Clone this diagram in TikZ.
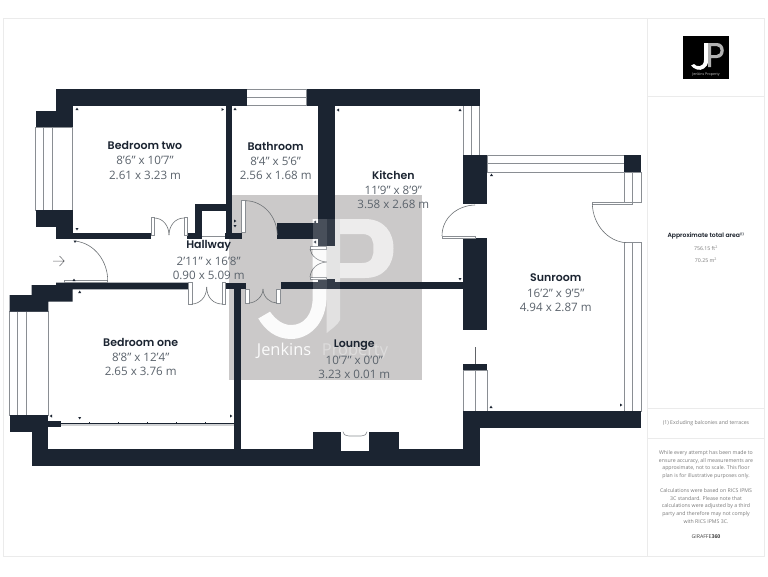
\documentclass[tikz,border=0pt]{standalone}
\usepackage{fontspec}
\setmainfont{Open Sans}
\newfontfamily\ttl{Poppins SemiBold}
\usetikzlibrary{calc}
\definecolor{wallc}{HTML}{1B2431}
\definecolor{linec}{HTML}{8A8E93}
\definecolor{framec}{HTML}{EBEBEB}
\definecolor{wmgrey}{HTML}{CBC9C9}
\definecolor{dimc}{HTML}{5B636C}
\definecolor{panelc}{HTML}{7A7A7A}
\tikzset{
  wall/.style={fill=wallc,draw=none},
  win/.style={draw=linec,line width=0.6pt,fill=white},
  winline/.style={draw=linec,line width=0.6pt},
  doorarc/.style={draw=linec!80!black,line width=0.6pt},
  framel/.style={draw=framec,line width=1pt},
  roomtitle/.style={font=\ttl\fontsize{11}{13}\selectfont,text=wallc,inner sep=0pt,anchor=center},
  roomdim/.style={font=\fontsize{11.6}{13}\selectfont,text=dimc,inner sep=0pt,anchor=center},
  paneltxt/.style={font=\fontsize{5.2}{6}\selectfont,text=panelc,inner sep=0pt,anchor=center},
  mk/.style={fill=wallc,draw=none}
}
\newcommand{\tick}[3]{\fill[mk,shift={(#1,#2)},rotate=#3] (-1.5,-1) -- (1.5,-1) -- (0,1.4) -- cycle;}
\begin{document}
\begin{tikzpicture}[x=1pt,y=-1pt]
\path[use as bounding box,fill=white] (0,0) rectangle (768,576);
% frame and panel
\draw[framel] (3.5,18.5) rectangle (764.5,556.5);
\draw[framel] (647.7,18.5) -- (647.7,556.5);
\draw[framel] (647.7,96) -- (764.5,96);
\draw[framel] (647.7,408) -- (764.5,408);
\draw[framel] (647.7,438) -- (764.5,438);
% watermark base
\fill[wmgrey] (229,194.7) rectangle (422.3,380);
\fill[white!92!wmgrey] (312.7,219) -- (326.7,219) -- (326.7,295) .. controls (326.7,325) and (308,339) .. (291,339) .. controls (276,339) and (265,330) .. (258.3,318.5) -- (270,311.7) .. controls (276,320) and (283,325) .. (291,325) .. controls (304,325) and (312.7,315) .. (312.7,297) -- cycle;
\fill[white!45!wmgrey] (326.7,219) -- (340,219) -- (340,320) .. controls (338,325) and (330,330) .. (326.7,333) -- cycle;
\fill[white!65!wmgrey,even odd rule] (340,219) -- (365,219) .. controls (384,219) and (393.5,232) .. (393.5,248.5) .. controls (393.5,265) and (384,278) .. (365,278) -- (340,278) -- (340,263) -- (362,263) .. controls (373,263) and (373.5,255) .. (373.5,248.5) .. controls (373.5,242) and (373,234) .. (362,234) -- (340,234) -- cycle;
% windows
\draw[win] (35.7,127) rectangle (72.7,210);
\draw[winline] (43.3,127) -- (43.3,210) (52.7,127) -- (52.7,210);
\draw[win] (9.7,311.7) rectangle (48.3,415);
\draw[winline] (17.3,311.7) -- (17.3,415) (26,311.7) -- (26,415);
\draw[win] (246.7,89.3) rectangle (306.7,105.7);
\draw[winline] (246.7,97) -- (306.7,97);
\draw[win] (463.3,105.7) rectangle (479.5,156);
\draw[winline] (471.7,105.7) -- (471.7,156);
\draw[win] (487.3,155.3) rectangle (624.3,172.3);
\draw[winline] (487.3,163.5) -- (624.3,163.5);
\draw[win] (624.3,172.3) rectangle (641,202.3);
\draw[winline] (632.3,172.3) -- (632.3,202.3);
\draw[win] (624.3,242.7) rectangle (641,411.3);
\draw[winline] (632.3,242.7) -- (632.3,411.3);
\draw[win] (463,370) rectangle (487.3,411.3);
\draw[winline] (475.7,370) -- (475.7,411.3);
\draw[line width=0.9pt,draw=linec!70!black] (475.3,347.3) -- (475.3,364);
% closet threshold
\draw[winline,line width=0.5pt] (201.7,236) -- (225.5,236);
% walls
\fill[wall] (56,89.3) rectangle (246.7,105.7);
\fill[wall] (306.7,89.3) rectangle (480,105.7);
\fill[wall] (56,89.3) rectangle (72.7,127);
\fill[wall] (35.7,110.7) rectangle (72.7,127);
\fill[wall] (35.7,210) rectangle (72.7,226.7);
\fill[wall] (56,210) rectangle (72.7,239);
\fill[wall] (56,232.7) rectangle (151,239);
\fill[wall] (225.5,105.7) rectangle (232.3,239);
\fill[wall] (225,232.5) rectangle (241.7,239);
\fill[wall] (195,204.3) rectangle (201.7,239);
\fill[wall] (195,204.3) rectangle (226,211);
\fill[wall] (187.3,232.5) rectangle (201.7,239);
\fill[wall] (317.7,105.7) rectangle (335.3,246);
\fill[wall] (277.3,222.7) rectangle (318,239.3);
\fill[wall] (56,282.7) -- (188.5,282.7) -- (188.5,289.3) -- (72.7,289.3) -- (72.7,301.7) -- (48.3,301.7) -- (48.3,311.7) -- (9.7,311.7) -- (9.7,295) -- (31.7,295) -- (31.7,285) -- (56,285) -- cycle;
\fill[wall] (9.7,415) rectangle (48.3,431.7);
\fill[wall] (31.7,415) rectangle (48.3,466);
\fill[wall] (48.3,421) rectangle (60.7,427.3);
\fill[wall] (31.7,449.3) rectangle (480,466);
\fill[wall] (234,282.7) rectangle (240.7,450);
\fill[wall] (225,282.7) rectangle (245.7,289.3);
\fill[wall] (280.7,281.7) rectangle (463,289);
\fill[wall] (317.7,279) rectangle (335.3,289);
\fill[wall] (312.7,431.7) rectangle (399,450);
\fill[white] (340.7,431.7) rectangle (369,450.7);
\draw[winline] (343,431.7) .. controls (344,435) and (346,436) .. (349,436) -- (361,436) .. controls (364,436) and (366,435) .. (367,431.7);
\fill[wall] (463,155.3) rectangle (487.3,204.3);
\fill[wall] (463,238.3) rectangle (487.3,330);
\fill[wall] (463,364) rectangle (487.3,370.3);
\fill[wall] (463,411.3) rectangle (641,427.7);
\fill[wall] (463,411.3) rectangle (480,466);
\fill[wall] (624.3,155.3) rectangle (641,172.3);
% built-in wardrobe rail
\fill[linec!40] (60.7,424) rectangle (234,426);
\draw[wallc,line width=0.9pt] (60.7,423.5) -- (234,423.5);
\foreach \tx in {89.3,118.3,147.3,176.3,205.3} {\draw[wallc,line width=0.4pt] (\tx,422) -- (\tx,423.5);}
% doors
\draw[win] (64,279.8) rectangle (107.7,282);
\draw[doorarc] (74.7,241) .. controls (95,243) and (108,262) .. (107.7,281);
\draw[win] (151,217.7) rectangle (154.3,235);
\draw[win] (184,217.7) rectangle (187.3,235);
\draw[doorarc] (154.3,218) .. controls (163,218) and (169,226) .. (169,235);
\draw[doorarc] (184,218) .. controls (175,218) and (169,226) .. (169,235);
\draw[win] (241.7,200.7) rectangle (245.7,232.5);
\draw[doorarc] (245.7,200.7) .. controls (263,201) and (277,216) .. (277.3,235);
\draw[win] (188.5,282.7) rectangle (191.8,304);
\draw[win] (222,282.7) rectangle (225,304);
\draw[doorarc] (191.8,304) .. controls (199,304) and (206.7,298) .. (206.7,287);
\draw[doorarc] (222,304) .. controls (214,304) and (206.7,298) .. (206.7,287);
\draw[win] (245.7,289) rectangle (249,303);
\draw[win] (276.7,289) rectangle (280.7,303);
\draw[doorarc] (249,303) .. controls (255,303) and (263,297) .. (263,289);
\draw[doorarc] (276.7,303) .. controls (270,303) and (263,297) .. (263,289);
\draw[win] (310,246.3) rectangle (326.7,249);
\draw[win] (310,277) rectangle (326.7,279.5);
\draw[doorarc] (310,249) .. controls (311,256) and (318,261.5) .. (326.7,262);
\draw[doorarc] (310,277) .. controls (311,268) and (318,262.5) .. (326.7,262);
\draw[win] (442,236) rectangle (475.7,238.2);
\draw[doorarc] (475,205) .. controls (457,205.5) and (442,218) .. (442,236);
\draw[win] (592.3,202.3) rectangle (632.3,204.2);
\draw[doorarc] (592.3,204) .. controls (593,225) and (608,241.5) .. (626,242.7);
% entry arrow
\draw[line width=0.5pt,draw=linec!70!black] (53,261) -- (64,261) (59.5,256) -- (64.3,261) -- (59.5,266);
% corner marks
\tick{77}{109}{180}\tick{222.5}{109.5}{90}\tick{235}{109}{180}\tick{77}{229}{0}
\tick{235}{221}{90}\tick{235}{226}{0}\tick{75}{241.5}{0}\tick{74}{280}{180}\tick{79.7}{292}{180}
\tick{338}{110}{270}\tick{460}{110}{180}\tick{460}{279}{0}
\tick{315}{222}{270}\tick{315}{242}{270}
\tick{51}{416}{270}\tick{79.7}{418}{0}\tick{231}{416}{90}
\tick{491}{407}{180}\tick{491.5}{175}{180}\tick{621}{405}{90}
% watermark overlay on walls
\begin{scope}
\clip (312.7,219) rectangle (340,289);
\fill[white,opacity=0.2] (312.7,219) rectangle (326.7,289);
\fill[white,opacity=0.1] (326.7,219) rectangle (340,289);
\end{scope}
\node[font=\fontsize{16.4}{18}\selectfont,text=white!92!wmgrey,inner sep=0pt,anchor=base west] (wm1) at (256.7,355) {Jenkins};
\node[font=\fontsize{16.4}{18}\selectfont,text=white!35!wmgrey,inner sep=0pt,anchor=base west] (wm2) at (321.7,355) {Property};
% room labels
\node[roomtitle] (t1) at (145,145.7) {Bedroom two};
\node[roomdim] (d1a) at (145,160.7) {8'6" x 10'7"};
\node[roomdim] (d1b) at (145,175.3) {2.61 x 3.23 m};
\node[roomtitle] (t2) at (275.7,146) {Bathroom};
\node[roomdim] (d2a) at (275.7,161) {8'4" x 5'6"};
\node[roomdim] (d2b) at (275.7,175) {2.56 x 1.68 m};
\node[roomtitle] (t3) at (393.3,175.3) {Kitchen};
\node[roomdim] (d3a) at (393.3,190) {11'9" x 8'9"};
\node[roomdim] (d3b) at (393.3,204.7) {3.58 x 2.68 m};
\node[roomtitle] (t4) at (208.7,246) {Hallway};
\node[roomdim] (d4a) at (208.7,261.5) {2'11" x 16'8"};
\node[roomdim] (d4b) at (208.7,275.7) {0.90 x 5.09 m};
\node[roomtitle] (t5) at (140.7,342.3) {Bedroom one};
\node[roomdim] (d5a) at (140.7,357.5) {8'8" x 12'4"};
\node[roomdim] (d5b) at (140.7,371.7) {2.65 x 3.76 m};
\node[roomtitle] (t6) at (354.3,345) {Lounge};
\node[roomdim] (d6a) at (354.3,360) {10'7" x 0'0"};
\node[roomdim] (d6b) at (354.3,374.7) {3.23 x 0.01 m};
\node[roomtitle] (t7) at (555.7,278) {Sunroom};
\node[roomdim] (d7a) at (555.7,293) {16'2" x 9'5"};
\node[roomdim] (d7b) at (555.7,307) {4.94 x 2.87 m};
% logo
\fill[black] (683.3,36) rectangle (729,79);
\fill[white] (704,43) -- (708,43) -- (708,61) .. controls (708,68) and (701,71) .. (697,69.5) .. controls (694,68.5) and (692,67) .. (691,65.5) -- (694,64) .. controls (696,67) and (704,68) .. (704,60) -- cycle;
\fill[white!70!black,even odd rule] (708,43) -- (717,43) .. controls (726,43) and (726,58) .. (717,58) -- (711,58) -- (711,67) -- (708,67) -- cycle (711,46) -- (711,55) -- (716.5,55) .. controls (722,55) and (722,46) .. (716.5,46) -- cycle;
\node[font=\fontsize{3.6}{4}\selectfont,text=white!80!black,inner sep=0pt] (logotxt) at (706,74.5) {Jenkins Property};
% panel text
\node[font=\ttl\fontsize{6.1}{7}\selectfont,text=wallc!80!black,inner sep=0pt] (p1) at (706,235.7) {Approximate total area\textsuperscript{\fontsize{3}{3}\selectfont(1)}};
\node[paneltxt] (p2) at (706,248) {756.15 ft\textsuperscript{2}};
\node[paneltxt] (p3) at (706,260) {70.25 m\textsuperscript{2}};
\node[paneltxt] (p4) at (706,422.7) {(1) Excluding balconies and terraces};
\node[paneltxt] (l1) at (706,452.7) {While every attempt has been made to};
\node[paneltxt] (l2) at (706,460.7) {ensure accuracy, all measurements are};
\node[paneltxt] (l3) at (706,468.3) {approximate, not to scale. This floor};
\node[paneltxt] (l4) at (706,476) {plan is for illustrative purposes only.};
\node[paneltxt] (l5) at (706,490.7) {Calculations were based on RICS IPMS};
\node[paneltxt] (l6) at (706,498.7) {3C standard. Please note that};
\node[paneltxt] (l7) at (706,506.3) {calculations were adjusted by a third};
\node[paneltxt] (l8) at (706,513.7) {party and therefore may not comply};
\node[paneltxt] (l9) at (706,521.3) {with RICS IPMS 3C.};
\node[font=\fontsize{5.2}{6}\selectfont,text=black!75,inner sep=0pt] (gir) at (706,536.7) {GIRAFFE\textbf{360}};
\end{tikzpicture}
\end{document}
